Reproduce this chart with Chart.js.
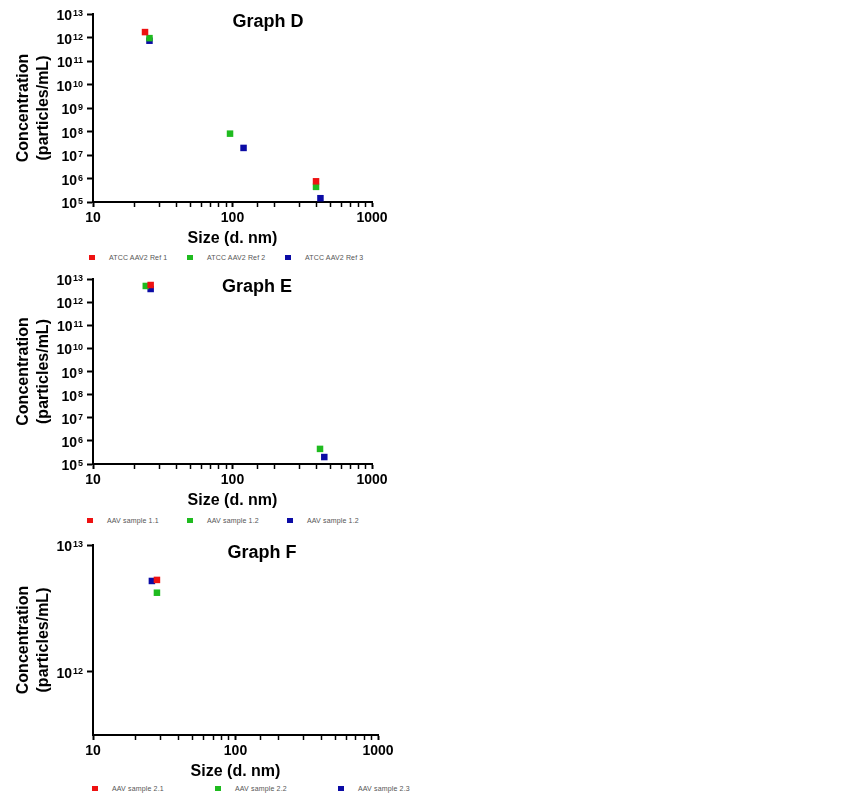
<!DOCTYPE html>
<html>
<head>
<meta charset="utf-8">
<script src="https://cdn.jsdelivr.net/npm/chart.js@4/dist/chart.umd.min.js"></script>
<style>
  body { margin: 0; background: #fff; width: 846px; height: 800px; position: relative;
         font-family: "Liberation Sans", Arial, sans-serif; }
  .box { position: absolute; left: 0; width: 400px; }
  .legend { position: absolute; display: flex; font-size: 7px; color: #555; letter-spacing: 0.15px; }
  .legend .item { display: flex; align-items: center; }
  .legend i { display: inline-block; width: 6px; height: 5px; margin-right: 14px; }
</style>
</head>
<body>

<div class="box" style="top:0px;height:250px"><canvas id="chartD"></canvas></div>
<div class="legend" id="legendD" style="left:89px;top:254px"></div>

<div class="box" style="top:265px;height:247px"><canvas id="chartE"></canvas></div>
<div class="legend" id="legendE" style="left:87px;top:517px"></div>

<div class="box" style="top:530px;height:253px"><canvas id="chartF"></canvas></div>
<div class="legend" id="legendF" style="left:92px;top:785px"></div>

<script>
// ---------- x ticks (size, d. nm) ----------
let x_min = 10;
let x_max = 1000;

// ---------- Graph D ----------
let d_names = ["ATCC AAV2 Ref 1", "ATCC AAV2 Ref 2", "ATCC AAV2 Ref 3"];
let d_ref1_size = [23.6, 397];
let d_ref1_conc = [1.7e12, 7.6e5];
let d_ref2_size = [25.4, 96, 397];
let d_ref2_conc = [9.4e11, 8.1e7, 4.4e5];
let d_ref3_size = [25.4, 120, 427];
let d_ref3_conc = [7.3e11, 2.0e7, 1.45e5];
let d_y_range = [1e5, 1e13];

// ---------- Graph E ----------
let e_names = ["AAV sample 1.1", "AAV sample 1.2", "AAV sample 1.2"];
let e_s1_size = [25.9];
let e_s1_conc = [5.5e12];
let e_s2_size = [23.9, 424];
let e_s2_conc = [5.0e12, 4.5e5];
let e_s3_size = [25.9, 455];
let e_s3_conc = [3.7e12, 2.0e5];
let e_y_range = [1e5, 1e13];

// ---------- Graph F ----------
let f_names = ["AAV sample 2.1", "AAV sample 2.2", "AAV sample 2.3"];
let f_s1_size = [28.1];
let f_s1_conc = [5.3e12];
let f_s2_size = [28.1];
let f_s2_conc = [4.2e12];
let f_s3_size = [25.9];
let f_s3_conc = [5.2e12];
let f_y_range = [3.16e11, 1e13];

let colors = ["#ee1111", "#1fbb1f", "#0b0ba5"];

// ------------- X ------------------ X ------------------

function to_points(sizes, concs) {
  return sizes.map((s, i) => ({ x: s, y: concs[i] }));
}

function is_pow10(v) {
  let e = Math.log10(v);
  return Math.abs(e - Math.round(e)) < 1e-9;
}

// draws "Graph X" inside the plot and the 10^n labels of the y axis
let extras = {
  id: "extras",
  afterDraw(chart) {
    let ctx = chart.ctx;
    let area = chart.chartArea;
    let ys = chart.scales.y;
    ctx.save();
    ctx.fillStyle = "#000";
    ctx.font = "bold 18px 'Liberation Sans', Arial, sans-serif";
    ctx.textAlign = "center";
    ctx.textBaseline = "middle";
    ctx.fillText(chart.options.graphTitle, area.left + (area.right - area.left) * chart.options.titleAt, area.top + 8);

    ys.ticks.forEach(t => {
      let py = ys.getPixelForValue(t.value);
      let exp = String(Math.round(Math.log10(t.value)));
      ctx.textBaseline = "alphabetic";
      ctx.textAlign = "right";
      ctx.font = "bold 9px 'Liberation Sans', Arial, sans-serif";
      let right = area.left - 10;
      ctx.fillText(exp, right, py + 2);
      let w = ctx.measureText(exp).width;
      ctx.font = "bold 14px 'Liberation Sans', Arial, sans-serif";
      ctx.fillText("10", right - w - 1, py + 6);
    });
    ctx.restore();
  }
};

function make_chart(id, title, titleAt, names, sets, y_range, padTop, padRight) {
  let datasets = sets.map((s, i) => ({
    label: names[i],
    data: to_points(s[0], s[1]),
    pointStyle: "rect",
    pointRadius: 4.6,
    pointHoverRadius: 4.6,
    borderWidth: 0,
    backgroundColor: colors[i],
    showLine: false
  }));

  new Chart(document.getElementById(id), {
    type: "scatter",
    data: { datasets: datasets },
    plugins: [extras],
    options: {
      graphTitle: title,
      titleAt: titleAt,
      responsive: true,
      maintainAspectRatio: false,
      animation: false,
      layout: { padding: { top: padTop, right: padRight, left: 0, bottom: 0 } },
      plugins: { legend: { display: false }, tooltip: { enabled: false } },
      scales: {
        x: {
          type: "logarithmic",
          min: x_min,
          max: x_max,
          afterFit: s => { s.height = 48; },
          border: { display: true, color: "#000", width: 2 },
          grid: { display: true, drawOnChartArea: false, drawTicks: true, tickLength: 5,
                  tickColor: "#000", tickWidth: ctx => (ctx.tick && is_pow10(ctx.tick.value)) ? 2 : 1.5 },
          ticks: {
            autoSkip: false, maxRotation: 0, padding: 3, color: "#000",
            font: { family: "'Liberation Sans', Arial, sans-serif", size: 14, weight: "bold" },
            callback: v => is_pow10(v) ? String(v) : ""
          },
          title: {
            display: true, text: "Size (d. nm)", color: "#000",
            font: { family: "'Liberation Sans', Arial, sans-serif", size: 16, weight: "bold", lineHeight: 1.25 },
            padding: { top: 0, bottom: 1 }
          }
        },
        y: {
          type: "logarithmic",
          min: y_range[0],
          max: y_range[1],
          afterBuildTicks: s => { s.ticks = s.ticks.filter(t => is_pow10(t.value)); },
          afterFit: s => { s.width = 93; },
          border: { display: true, color: "#000", width: 2 },
          grid: { display: true, drawOnChartArea: false, drawTicks: true, tickLength: 6,
                  tickColor: "#000", tickWidth: 2 },
          ticks: { display: false },
          title: {
            display: true, text: ["Concentration", "(particles/mL)"], color: "#000",
            font: { family: "'Liberation Sans', Arial, sans-serif", size: 16, weight: "bold", lineHeight: 1.25 },
            padding: { top: 14, bottom: 0 }
          }
        }
      }
    }
  });
}

function make_legend(id, names, itemWidth) {
  let box = document.getElementById(id);
  names.forEach((n, i) => {
    let item = document.createElement("span");
    item.className = "item";
    item.style.width = itemWidth + "px";
    item.innerHTML = `<i style="background:${colors[i]}"></i>${n}`;
    box.appendChild(item);
  });
}

make_chart("chartD", "Graph D", 0.627, d_names,
  [[d_ref1_size, d_ref1_conc], [d_ref2_size, d_ref2_conc], [d_ref3_size, d_ref3_conc]],
  d_y_range, 14, 28);
make_chart("chartE", "Graph E", 0.588, e_names,
  [[e_s1_size, e_s1_conc], [e_s2_size, e_s2_conc], [e_s3_size, e_s3_conc]],
  e_y_range, 14, 28);
make_chart("chartF", "Graph F", 0.593, f_names,
  [[f_s1_size, f_s1_conc], [f_s2_size, f_s2_conc], [f_s3_size, f_s3_conc]],
  f_y_range, 15, 22);

make_legend("legendD", d_names, 98);
make_legend("legendE", e_names, 100);
make_legend("legendF", f_names, 123);
</script>
</body>
</html>
